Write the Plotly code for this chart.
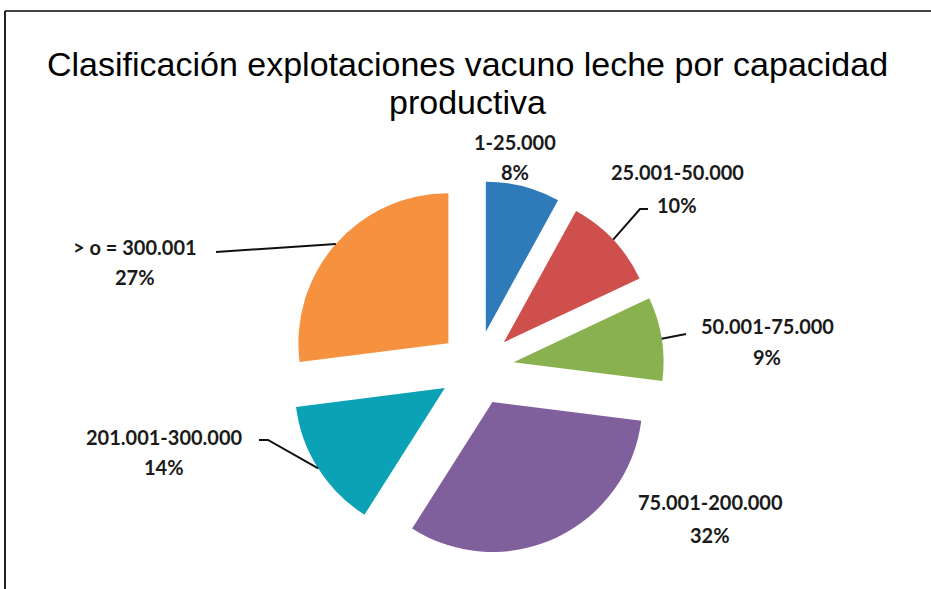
import math
import plotly.graph_objects as go

# ---- data ----
categories = ["1-25.000", "25.001-50.000", "50.001-75.000",
              "75.001-200.000", "201.001-300.000", "> o = 300.001"]
percentages = [8, 10, 9, 32, 14, 27]
colors = ["#2F7BBA", "#CF4F4D", "#8AB14F", "#80609C", "#0CA2B6", "#F69140"]

# ---- layout constants ----
W, H = 931, 589
PULL = 0.25
CX, CY = 476.5, 368.0          # pie centre in px
R = 150.0                      # radius in px
box = 2 * R * (1 + PULL)
dom_x = [(CX - box / 2) / W, (CX + box / 2) / W]
dom_y = [(H - CY - box / 2) / H, (H - CY + box / 2) / H]

fig = go.Figure(go.Pie(
    labels=categories,
    values=percentages,
    sort=False,
    direction="clockwise",
    rotation=0,
    pull=PULL,
    marker=dict(colors=colors, line=dict(width=0)),
    textinfo="none",
    hoverinfo="label+percent",
    showlegend=False,
    domain=dict(x=dom_x, y=dom_y),
))

def px(x, y):
    return x / W, 1 - y / H

# arc midpoint of each slice (computed from data)
total = sum(percentages)
arc_pts = []
cum = 0
for v in percentages:
    mid = (cum + v / 2) / total * 2 * math.pi
    dx, dy = math.sin(mid), -math.cos(mid)
    arc_pts.append((CX + (PULL * R + R) * dx, CY + (PULL * R + R) * dy))
    cum += v

# label placement (px): centre x, first line y, second line y
label_pos = [
    (515, 142, 172),
    (677, 172, 205),
    (767, 326, 357),
    (710, 502, 535),
    (164, 437, 467),
    (135, 247, 277),
]
# leader line bend/end points (None = no leader line)
leaders = [
    None,
    [(640, 209), (648, 209)],
    [(686, 334)],
    None,
    [(268, 440), (259, 440)],
    [(216, 252)],
]

lab_font = dict(family="Lato, 'Open Sans', sans-serif", size=20, color="#1a1a1a")
annotations = []
for cat, pct, (x, y1, y2) in zip(categories, percentages, label_pos):
    for txt, yy in ((cat, y1), (f"{pct}%", y2)):
        xp, yp = px(x, yy)
        annotations.append(dict(x=xp, y=yp, xref="paper", yref="paper",
                                text=f"<b>{txt}</b>", showarrow=False,
                                xanchor="center", yanchor="middle", font=lab_font))

# title
for txt, yy in (("Clasificación explotaciones vacuno leche por capacidad", 64),
                ("productiva", 102)):
    xp, yp = px(468, yy)
    annotations.append(dict(x=xp, y=yp, xref="paper", yref="paper", text=txt,
                            showarrow=False, xanchor="center", yanchor="middle",
                            font=dict(family="Liberation Sans, Arial, sans-serif",
                                      size=34, color="#000000")))

shapes = []
for pt, lead in zip(arc_pts, leaders):
    if lead is None:
        continue
    pts = [pt] + lead
    path = "M " + " L ".join(f"{px(a, b)[0]},{px(a, b)[1]}" for a, b in pts)
    shapes.append(dict(type="path", xref="paper", yref="paper", path=path,
                       line=dict(color="#111111", width=2)))

# frame (top and left edges visible)
shapes.append(dict(type="line", xref="paper", yref="paper",
                   x0=5 / W, x1=1.01, y0=1 - 11 / H, y1=1 - 11 / H,
                   line=dict(color="#444444", width=2)))
shapes.append(dict(type="line", xref="paper", yref="paper",
                   x0=5 / W, x1=5 / W, y0=1 - 11 / H, y1=-0.01,
                   line=dict(color="#222222", width=2)))

fig.update_layout(
    width=W, height=H,
    margin=dict(l=0, r=0, t=0, b=0),
    paper_bgcolor="white",
    plot_bgcolor="white",
    annotations=annotations,
    shapes=shapes,
)

fig.write_html("out.html", config={"displayModeBar": False},
               post_script="document.body.style.margin='0';document.body.style.overflow='hidden';")
